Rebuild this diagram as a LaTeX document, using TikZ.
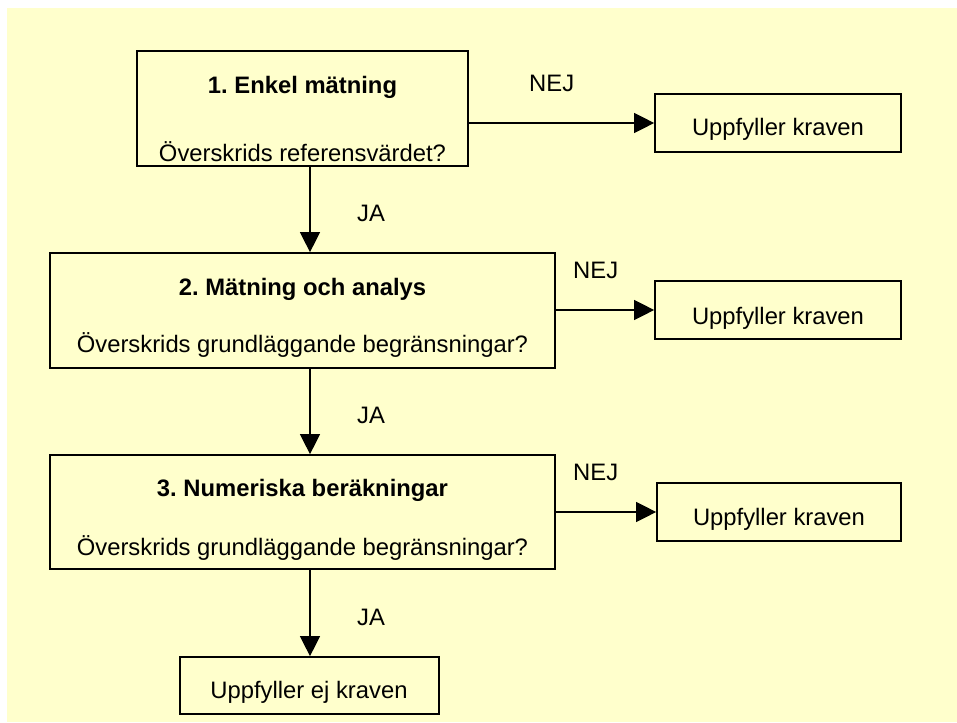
\documentclass[tikz,border=0pt]{standalone}
\usepackage{fontspec}
\setmainfont{Liberation Sans}
\usetikzlibrary{arrows.meta}
\definecolor{bgyellow}{HTML}{FFFFCC}
\frenchspacing
\begin{document}
\begin{tikzpicture}[x=1pt,y=-1pt,
  font=\fontsize{23.8}{28}\selectfont,
  box/.style={draw=black, line width=1.7pt, inner sep=0pt},
  txt/.style={inner sep=0pt, anchor=base},
  arr/.style={line width=1.3pt, -{Triangle[length=20pt,width=20pt]}}]
\useasboundingbox (0,0) rectangle (957,722);
\fill[bgyellow] (7,8) rectangle (957,722);

% boxes
\node[box, minimum width=331pt, minimum height=115pt] (b1) at (302.5,108.5) {};
\node[box, minimum width=505pt, minimum height=115pt] (b2) at (302.5,310.5) {};
\node[box, minimum width=505pt, minimum height=114pt] (b3) at (302.5,512) {};
\node[box, minimum width=246pt, minimum height=58pt] (u1) at (778,123) {};
\node[box, minimum width=246pt, minimum height=58pt] (u2) at (778,310) {};
\node[box, minimum width=244pt, minimum height=58pt] (u3) at (779,512) {};
\node[box, minimum width=259pt, minimum height=57pt] (fin) at (309.5,685.5) {};

% texts in boxes
\node[txt] (t1) at (302.5,94) {\bfseries 1. Enkel mätning};
\node[txt] (q1) at (302.5,161) {Överskrids referensvärdet?};
\node[txt] (t2) at (302.5,295) {\bfseries 2. Mätning och analys};
\node[txt] (q2) at (302.5,352) {Överskrids grundläggande begränsningar?};
\node[txt] (t3) at (302.5,496) {\bfseries 3. Numeriska beräkningar};
\node[txt] (q3) at (302.5,555) {Överskrids grundläggande begränsningar?};
\node[txt] (k1) at (778,136) {Uppfyller kraven};
\node[txt] (k2) at (778,324) {Uppfyller kraven};
\node[txt] (k3) at (779,525) {Uppfyller kraven};
\node[txt] (kf) at (309,698) {Uppfyller ej kraven};

% connectors
\coordinate (ax) at (310,0);
\draw[arr] (b1.south -| ax) -- (b2.north -| ax);
\draw[arr] (b2.south -| ax) -- (b3.north -| ax);
\draw[arr] (b3.south -| ax) -- (fin.north -| ax);
\draw[arr] (u1.west -| b1.east) -- (u1.west);
\draw[arr] (u2.west -| b2.east) -- (u2.west);
\draw[arr] (u3.west -| b3.east) -- (u3.west);

% labels
\node[txt] (ja1) at (371,221) {JA};
\node[txt] (ja2) at (371,423) {JA};
\node[txt] (ja3) at (371,625) {JA};
\node[txt, anchor=base west] (nej1) at (529,92) {NEJ};
\node[txt, anchor=base west] (nej2) at (573,278) {NEJ};
\node[txt, anchor=base west] (nej3) at (573,480) {NEJ};
\end{tikzpicture}
\end{document}
